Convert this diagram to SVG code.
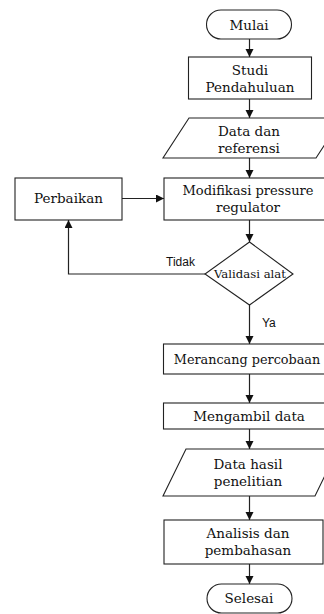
<svg xmlns="http://www.w3.org/2000/svg" width="324" height="614" viewBox="0 0 324 614">
<defs>
<style>
.shape{fill:#fff;stroke:#222;stroke-width:1.1}
.t{font-family:"DejaVu Serif","Liberation Serif",serif;font-size:13.5px;fill:#111;text-anchor:middle}
.ts{font-family:"DejaVu Serif","Liberation Serif",serif;font-size:11.5px;fill:#111;text-anchor:middle}
.lbl{font-family:"Liberation Sans",Arial,sans-serif;font-size:12px;fill:#111}
.conn{fill:none;stroke:#222;stroke-width:1.2}
</style>
<marker id="ah" markerUnits="userSpaceOnUse" markerWidth="9" markerHeight="9" refX="8" refY="4" orient="auto">
<path d="M0,0 L8,4 L0,8 z" fill="#111"/>
</marker>
</defs>
<rect width="324" height="614" fill="#fff"/>

<g id="connectors">
<path class="conn" d="M249.5,39 V57" marker-end="url(#ah)"/>
<path class="conn" d="M249.5,99 V118" marker-end="url(#ah)"/>
<path class="conn" d="M249.5,158 V178" marker-end="url(#ah)"/>
<path class="conn" d="M122,198.5 H164" marker-end="url(#ah)"/>
<path class="conn" d="M249.5,220 V242" marker-end="url(#ah)"/>
<path class="conn" d="M205,274 H68.5 V220" marker-end="url(#ah)"/>
<path class="conn" d="M249.5,305 V344" marker-end="url(#ah)"/>
<path class="conn" d="M249.5,374 V403" marker-end="url(#ah)"/>
<path class="conn" d="M249.5,429 V449" marker-end="url(#ah)"/>
<path class="conn" d="M249.5,496 V520" marker-end="url(#ah)"/>
<path class="conn" d="M249.5,564 V584" marker-end="url(#ah)"/>
<text class="lbl" x="166" y="266">Tidak</text>
<text class="lbl" x="262" y="327">Ya</text>
</g>

<g id="mulai">
<rect class="shape" x="206.5" y="10" width="85" height="29" rx="14.5"/>
<text class="t" x="249" y="30">Mulai</text>
</g>

<g id="studi">
<rect class="shape" x="188.5" y="57" width="123" height="42"/>
<text class="t" x="250" y="75">Studi</text>
<text class="t" x="250" y="92">Pendahuluan</text>
</g>

<g id="data-referensi">
<polygon class="shape" points="189,118 342,118 316,158 163,158"/>
<text class="t" x="249" y="136">Data dan</text>
<text class="t" x="249" y="153">referensi</text>
</g>

<g id="modifikasi">
<rect class="shape" x="164" y="178" width="172" height="42"/>
<text class="t" x="248" y="195" textLength="131" lengthAdjust="spacingAndGlyphs">Modifikasi pressure</text>
<text class="t" x="248" y="212">regulator</text>
</g>

<g id="perbaikan">
<rect class="shape" x="15" y="178" width="107" height="42"/>
<text class="t" x="68.5" y="203">Perbaikan</text>
</g>

<g id="validasi">
<polygon class="shape" points="249.5,242 293,274 249.5,305 205,274"/>
<text class="ts" x="250" y="278" textLength="72" lengthAdjust="spacingAndGlyphs">Validasi alat</text>
</g>

<g id="merancang">
<rect class="shape" x="163.5" y="344" width="172" height="30"/>
<text class="t" x="247" y="364" style="font-size:12.8px">Merancang percobaan</text>
</g>

<g id="mengambil">
<rect class="shape" x="163.5" y="403" width="172" height="26"/>
<text class="t" x="249" y="421">Mengambil data</text>
</g>

<g id="data-hasil">
<polygon class="shape" points="186,449 338,449 315,496 163,496"/>
<text class="t" x="248" y="469">Data hasil</text>
<text class="t" x="248" y="486">penelitian</text>
</g>

<g id="analisis">
<rect class="shape" x="164" y="520" width="159" height="44"/>
<text class="t" x="248" y="538">Analisis dan</text>
<text class="t" x="248" y="555">pembahasan</text>
</g>

<g id="selesai">
<rect class="shape" x="207" y="584" width="85" height="29" rx="14.5"/>
<text class="t" x="249" y="603">Selesai</text>
</g>
</svg>
